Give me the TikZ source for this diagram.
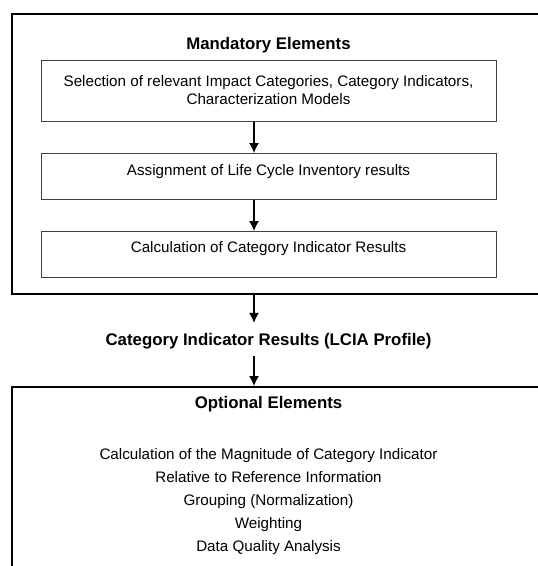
\documentclass[tikz,border=0pt]{standalone}
\usepackage{fontspec}
\setmainfont{Liberation Sans}
\usetikzlibrary{arrows.meta, positioning}
\tikzset{
  outerbox/.style={draw=black, line width=1.6pt, inner sep=0pt},
  stepbox/.style={rectangle, draw=black!75, line width=1pt, minimum width=455pt, align=center, inner sep=0pt},
  heading/.style={font=\bfseries\fontsize{16.8}{20}\selectfont},
  arrow/.style={line width=1.3pt, -{Latex[length=10pt, width=10pt]}}
}
\begin{document}
\begin{tikzpicture}[x=1pt, y=-1pt, every node/.style={font=\fontsize{15.2}{18}\selectfont}]
\clip (0,0) rectangle (538,566);
\fill[white] (0,0) rectangle (538,566);
% outer frames (right and bottom edges fall outside the picture)
\node[outerbox, anchor=north west, minimum width=560pt, minimum height=280pt] (mand) at (11,13) {};
\node[outerbox, anchor=north west, minimum width=560pt, minimum height=220pt] (opt) at (11,386) {};
\coordinate (ax) at (254,0);
% mandatory elements
\node[heading] (mtitle) at (268.5,45.5) {Mandatory Elements};
\node[stepbox, minimum height=61pt] (sel) at (268.5,90.5) {Selection of relevant Impact Categories, Category Indicators,\\Characterization Models};
\node[stepbox, anchor=north, text height=22pt, text depth=24pt] (assign) at (268.5,153) {Assignment of Life Cycle Inventory results};
\node[stepbox, anchor=north, text height=21pt, text depth=25pt] (calc) at (268.5,231) {Calculation of Category Indicator Results};
\draw[arrow] (sel.south -| ax) -- (assign.north -| ax);
\draw[arrow] (assign.south -| ax) -- (calc.north -| ax);
% profile
\node[heading, inner sep=0pt, text height=22pt, text depth=11pt] (prof) at (268.5,339.5) {Category Indicator Results (LCIA Profile)};
\draw[arrow] (mand.south -| ax) -- (prof.north -| ax);
\draw[arrow] (prof.south -| ax) -- (opt.north -| ax);
% optional elements
\node[heading] (otitle) at (268.5,404) {Optional Elements};
\node[align=center, font=\fontsize{15.2}{23}\selectfont] (olist) at (268.5,502) {Calculation of the Magnitude of Category Indicator\\Relative to Reference Information\\Grouping (Normalization)\\Weighting\\Data Quality Analysis};
\end{tikzpicture}
\end{document}
